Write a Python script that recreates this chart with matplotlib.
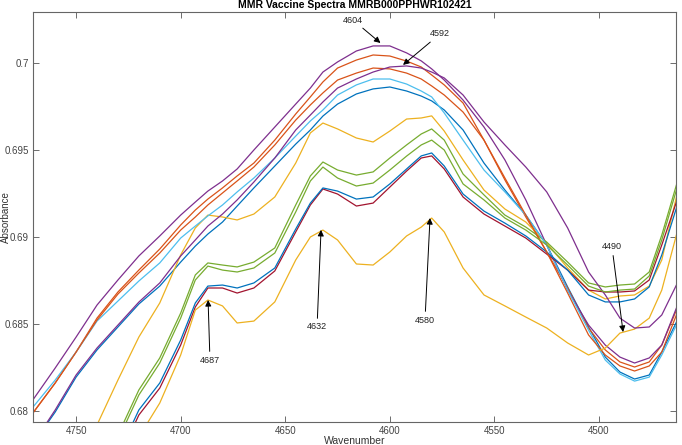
import numpy as np
import matplotlib
matplotlib.use('Agg')
import matplotlib.pyplot as plt
from matplotlib.ticker import FormatStrFormatter

plt.rcParams['font.family'] = ['Liberation Sans', 'DejaVu Sans']

# wavenumber grid (cm-1) shared by all spectra
wavenumber = [4771, 4760, 4750, 4740, 4730, 4720, 4710, 4700, 4693, 4687,
              4680, 4673, 4665, 4655, 4645, 4638, 4632, 4625, 4616, 4608,
              4600, 4592, 4585, 4580, 4574, 4565, 4555, 4545, 4535, 4525,
              4515, 4505, 4497, 4490, 4483, 4476, 4470, 4463]

# absorbance of each spectrum
blue_1 = [0.67803, 0.67992, 0.68193, 0.68349, 0.68481, 0.68613, 0.68716, 0.68854, 0.68946, 0.69015,
          0.69084, 0.69176, 0.69280, 0.69406, 0.69532, 0.69613, 0.69693, 0.69762, 0.69820, 0.69849,
          0.69860, 0.69837, 0.69808, 0.69780, 0.69728, 0.69613, 0.69423, 0.69268, 0.69124, 0.68952,
          0.68711, 0.68481, 0.68308, 0.68222, 0.68182, 0.68205, 0.68337, 0.68509]
orange_1 = [0.67981, 0.68159, 0.68337, 0.68532, 0.68682, 0.68808, 0.68929, 0.69067, 0.69153, 0.69216,
            0.69280, 0.69349, 0.69423, 0.69555, 0.69705, 0.69803, 0.69889, 0.69969, 0.70015, 0.70044,
            0.70038, 0.70009, 0.69975, 0.69929, 0.69872, 0.69768, 0.69555, 0.69326, 0.69113, 0.68912,
            0.68705, 0.68475, 0.68349, 0.68280, 0.68251, 0.68280, 0.68377, 0.68578]
yellow_1 = [0.67142, 0.67400, 0.67659, 0.67918, 0.68176, 0.68423, 0.68619, 0.68895, 0.69050, 0.69124,
            0.69113, 0.69096, 0.69130, 0.69228, 0.69423, 0.69596, 0.69653, 0.69619, 0.69567, 0.69544,
            0.69607, 0.69676, 0.69682, 0.69694, 0.69607, 0.69441, 0.69268, 0.69159, 0.69084, 0.68963,
            0.68820, 0.68693, 0.68642, 0.68659, 0.68665, 0.68716, 0.68866, 0.69228]
purple_1 = [0.68056, 0.68245, 0.68423, 0.68607, 0.68751, 0.68889, 0.69004, 0.69124, 0.69199, 0.69262,
            0.69320, 0.69389, 0.69498, 0.69630, 0.69762, 0.69854, 0.69946, 0.70004, 0.70067, 0.70096,
            0.70096, 0.70056, 0.70010, 0.69964, 0.69900, 0.69785, 0.69630, 0.69441, 0.69211, 0.68952,
            0.68693, 0.68492, 0.68377, 0.68308, 0.68274, 0.68303, 0.68377, 0.68590]
green_1 = [0.66912, 0.67142, 0.67372, 0.67602, 0.67860, 0.68119, 0.68303, 0.68561, 0.68780, 0.68849,
           0.68837, 0.68826, 0.68854, 0.68935, 0.69182, 0.69349, 0.69429, 0.69383, 0.69354, 0.69372,
           0.69452, 0.69527, 0.69590, 0.69619, 0.69555, 0.69360, 0.69240, 0.69124, 0.69055, 0.68969,
           0.68854, 0.68734, 0.68711, 0.68722, 0.68728, 0.68797, 0.69009, 0.69297]
light_blue = [0.68015, 0.68176, 0.68337, 0.68515, 0.68630, 0.68745, 0.68849, 0.68992, 0.69061, 0.69119,
              0.69182, 0.69257, 0.69337, 0.69452, 0.69578, 0.69665, 0.69728, 0.69814, 0.69872, 0.69906,
              0.69906, 0.69877, 0.69837, 0.69803, 0.69711, 0.69555, 0.69383, 0.69257, 0.69124, 0.68952,
              0.68693, 0.68463, 0.68291, 0.68211, 0.68170, 0.68193, 0.68320, 0.68492]
dark_red = [0.66768, 0.66998, 0.67228, 0.67458, 0.67716, 0.67975, 0.68130, 0.68377, 0.68596, 0.68705,
            0.68705, 0.68676, 0.68705, 0.68803, 0.69027, 0.69182, 0.69274, 0.69245, 0.69176, 0.69193,
            0.69285, 0.69377, 0.69452, 0.69464, 0.69389, 0.69228, 0.69130, 0.69061, 0.68992, 0.68900,
            0.68808, 0.68693, 0.68682, 0.68682, 0.68688, 0.68751, 0.68952, 0.69199]
blue_2 = [0.66797, 0.67027, 0.67257, 0.67486, 0.67745, 0.68004, 0.68159, 0.68406, 0.68619, 0.68716,
          0.68722, 0.68705, 0.68734, 0.68820, 0.69044, 0.69193, 0.69280, 0.69262, 0.69216, 0.69228,
          0.69303, 0.69389, 0.69464, 0.69481, 0.69406, 0.69245, 0.69147, 0.69078, 0.69004, 0.68912,
          0.68808, 0.68665, 0.68625, 0.68625, 0.68642, 0.68711, 0.68895, 0.69165]
orange_2 = [0.67981, 0.68159, 0.68337, 0.68521, 0.68670, 0.68791, 0.68906, 0.69038, 0.69113, 0.69182,
            0.69251, 0.69320, 0.69400, 0.69527, 0.69670, 0.69757, 0.69826, 0.69900, 0.69940, 0.69969,
            0.69964, 0.69940, 0.69906, 0.69866, 0.69814, 0.69716, 0.69555, 0.69337, 0.69124, 0.68912,
            0.68676, 0.68435, 0.68320, 0.68257, 0.68228, 0.68257, 0.68337, 0.68550]
yellow_2 = [0.66682, 0.66912, 0.67113, 0.67314, 0.67630, 0.67849, 0.68044, 0.68320, 0.68578, 0.68636,
            0.68602, 0.68504, 0.68515, 0.68625, 0.68866, 0.68998, 0.69038, 0.68981, 0.68843, 0.68837,
            0.68912, 0.69004, 0.69055, 0.69107, 0.69027, 0.68820, 0.68665, 0.68602, 0.68538, 0.68475,
            0.68389, 0.68320, 0.68360, 0.68446, 0.68469, 0.68532, 0.68693, 0.69010]
purple_2 = [0.67803, 0.68004, 0.68205, 0.68360, 0.68492, 0.68624, 0.68734, 0.68889, 0.68981, 0.69061,
            0.69130, 0.69211, 0.69314, 0.69452, 0.69613, 0.69699, 0.69774, 0.69854, 0.69906, 0.69946,
            0.69975, 0.69981, 0.69969, 0.69946, 0.69912, 0.69814, 0.69659, 0.69527, 0.69400, 0.69257,
            0.69050, 0.68797, 0.68665, 0.68532, 0.68475, 0.68481, 0.68550, 0.68722]
green_2 = [0.66883, 0.67113, 0.67343, 0.67573, 0.67831, 0.68090, 0.68274, 0.68532, 0.68751, 0.68831,
           0.68808, 0.68797, 0.68820, 0.68906, 0.69142, 0.69320, 0.69400, 0.69337, 0.69291, 0.69308,
           0.69383, 0.69463, 0.69527, 0.69555, 0.69498, 0.69303, 0.69211, 0.69107, 0.69038, 0.68952,
           0.68837, 0.68716, 0.68682, 0.68693, 0.68699, 0.68774, 0.68981, 0.69268]

spectra = [blue_1, orange_1, yellow_1, purple_1, green_1, light_blue, dark_red,
           blue_2, orange_2, yellow_2, purple_2, green_2]

# MATLAB default colour order
colors = ['#0072BD', '#D95319', '#EDB120', '#7E2F8E', '#77AC30', '#4DBEEE', '#A2142F']

# peak labels: (label, text position, arrow tip)
peak_labels = ['4604', '4592', '4687', '4632', '4580', '4490']
text_pos = [(4617.6, 0.70245), (4576.0, 0.70165), (4686.0, 0.68291),
            (4634.8, 0.68481), (4583.2, 0.68521), (4493.8, 0.68941)]
tip_pos = [(4604.5, 0.70113), (4593.7, 0.69987), (4686.9, 0.68636),
           (4632.9, 0.69039), (4580.8, 0.69107), (4488.5, 0.68452)]

fig = plt.figure(figsize=(6.82, 4.45), dpi=100)
ax = fig.add_axes([33 / 682, 23 / 445, 643 / 682, 410 / 445])

for i, s in enumerate(spectra):
    ax.plot(wavenumber, s, color=colors[i % len(colors)], lw=0.9)

for lab, tp, hp in zip(peak_labels, text_pos, tip_pos):
    ax.annotate(lab, xy=hp, xytext=tp, fontsize=6.5, color='#222222',
                ha='center', va='center',
                arrowprops=dict(arrowstyle='-|>', color='black', lw=0.7,
                                mutation_scale=9, shrinkA=1, shrinkB=0))

ax.set_xlim(4770.6, 4463.2)
ax.set_ylim(0.67935, 0.70291)
ax.set_xticks([4750, 4700, 4650, 4600, 4550, 4500])
ax.set_yticks([0.68, 0.685, 0.69, 0.695, 0.7])
ax.yaxis.set_major_formatter(FormatStrFormatter('%g'))
ax.tick_params(direction='in', top=True, right=True, length=4.5, width=0.6,
               colors='#555555', labelsize=7, labelcolor='#444444', pad=3)
for sp in ax.spines.values():
    sp.set_color('#666666')
    sp.set_linewidth(0.8)

ax.set_title('MMR Vaccine Spectra MMRB000PPHWR102421', fontsize=7.5,
             fontweight='bold', pad=3)
ax.set_xlabel('Wavenumber', fontsize=7.5, color='#333333')
ax.set_ylabel('Absorbance', fontsize=7, color='#333333')
ax.xaxis.set_label_coords(0.5, -0.033)
ax.yaxis.set_label_coords(-0.035, 0.5)

fig.savefig('out.png', dpi=100)
